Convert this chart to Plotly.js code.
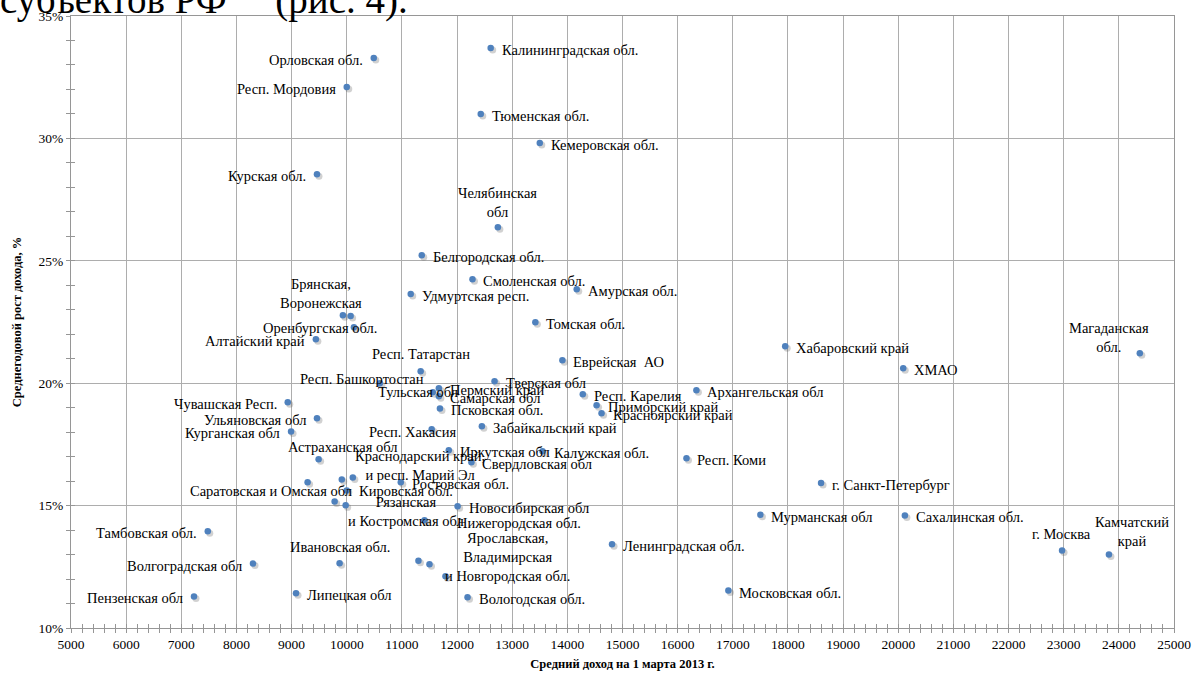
<!DOCTYPE html>
<html>
<head>
<meta charset="utf-8">
<script src="https://cdn.plot.ly/plotly-3.0.1.min.js"></script>
<style>
html,body{margin:0;padding:0;background:#fff;}
#chart{width:1195px;height:677px;}
#chart svg text{font-family:"Liberation Serif","Times New Roman","DejaVu Serif",serif !important;}
</style>
</head>
<body>
<div id="chart"></div>
<script>
// ---- DATA ----
const regions = [
  'Орловская обл.','Респ. Мордовия','Курская обл.','Калининградская обл.','Тюменская обл.',
  'Кемеровская обл.','Челябинская обл','Белгородская обл.','Смоленская обл.','Удмуртская респ.',
  'Амурская обл.','Томская обл.','Брянская обл.','Воронежская обл.','Оренбургская обл.',
  'Алтайский край','Респ. Татарстан','Хабаровский край','Магаданская обл.','Еврейская АО',
  'ХМАО','Респ. Башкортостан','Тверская обл','Пермский край','Тульская обл',
  'Самарская обл','Псковская обл.','Респ. Карелия','Приморский край','Красноярский край',
  'Архангельская обл','Чувашская Респ.','Ульяновская обл','Курганская обл','Респ. Хакасия',
  'Забайкальский край','Астраханская обл','Краснодарский край','Респ. Марий Эл','Иркутская обл',
  'Калужская обл.','Свердловская обл','Респ. Коми','Саратовская обл.','Омская обл.',
  'Ростовская обл.','г. Санкт-Петербург','Рязанская обл.','Костромская обл.','Новосибирская обл',
  'Нижегородская обл.','Мурманская обл','Сахалинская обл.','Тамбовская обл.','Камчатский край',
  'г. Москва','Ярославская обл.','Владимирская обл.','Новгородская обл.','Ивановская обл.',
  'Волгоградская обл','Ленинградская обл.','Пензенская обл','Липецкая обл','Вологодская обл.',
  'Московская обл.'
];
const income = [
  10490,10000,9460,12610,12430,
  13500,12740,11360,12280,11160,
  14170,13420,9930,10070,10130,
  9440,11340,17950,24380,13910,
  20090,10600,12680,11670,11560,
  11670,11690,14280,14530,14620,
  16340,8930,9460,8990,11540,
  12450,9490,9910,10110,11850,
  13550,12260,16160,9290,10000,
  10980,18600,9780,9980,12010,
  11410,17500,20120,7480,23820,
  22970,11300,11500,11790,9870,
  8300,14810,7230,9080,12190,
  16920
];
const growth = [
  33.28,32.10,28.54,33.69,31.00,
  29.81,26.37,25.23,24.25,23.64,
  23.84,22.49,22.78,22.74,22.29,
  21.80,20.49,21.51,21.22,20.94,
  20.61,20.00,20.08,19.79,19.63,
  19.47,18.97,19.55,19.10,18.77,
  19.71,19.22,18.57,18.03,18.12,
  18.24,16.89,16.07,16.15,17.26,
  17.22,16.77,16.93,15.95,15.62,
  15.95,15.92,15.17,15.01,14.97,
  14.40,14.63,14.60,13.95,13.00,
  13.17,12.75,12.60,12.11,12.65,
  12.63,13.42,11.29,11.42,11.26,
  11.53
];
const xTickLabels = ['5000','6000','7000','8000','9000','10000','11000','12000','13000','14000','15000',
  '16000','17000','18000','19000','20000','21000','22000','23000','24000','25000'];
const xTickValues = [5000,6000,7000,8000,9000,10000,11000,12000,13000,14000,15000,
  16000,17000,18000,19000,20000,21000,22000,23000,24000,25000];
const yTickLabels = ['10%','15%','20%','25%','30%','35%'];
const yTickValues = [10,15,20,25,30,35];

// label texts and the region each one is attached to
const labelText = [
  'Орловская обл.','Респ. Мордовия','Курская обл.','Калининградская обл.','Тюменская обл.',
  'Кемеровская обл.','Челябинская<br>обл','Белгородская обл.','Смоленская обл.','Удмуртская респ.',
  'Амурская обл.','Томская обл.','Брянская,<br>Воронежская','Оренбургская обл.',
  'Алтайский край','Респ. Татарстан','Хабаровский край','Магаданская<br>обл.','Еврейская\u00a0\u00a0АО',
  'ХМАО','Респ. Башкортостан','Тверская обл','Пермский край','Тульская обл',
  'Самарская обл','Псковская обл.','Респ. Карелия','Приморский край','Красноярский край',
  'Архангельская обл','Чувашская Респ.','Ульяновская обл','Курганская обл','Респ. Хакасия',
  'Забайкальский край','Астраханская обл','Краснодарский край,<br>и респ. Марий Эл','Иркутская обл',
  'Калужская обл.','Свердловская обл','Респ. Коми','Саратовская и Омская обл','Кировская обл.',
  'Ростовская обл.','г. Санкт-Петербург','Рязанская<br>и Костромская обл','Новосибирская обл',
  'Нижегородская обл.','Мурманская обл','Сахалинская обл.','Тамбовская обл.','Камчатский<br>край',
  'г. Москва','Ярославская,<br>Владимирская<br>и Новгородская обл.','Ивановская обл.',
  'Волгоградская обл','Ленинградская обл.','Пензенская обл','Липецкая обл','Вологодская обл.',
  'Московская обл.'
];
const labelAt = [
  'Орловская обл.','Респ. Мордовия','Курская обл.','Калининградская обл.','Тюменская обл.',
  'Кемеровская обл.','Челябинская обл','Белгородская обл.','Смоленская обл.','Удмуртская респ.',
  'Амурская обл.','Томская обл.','Брянская обл.','Оренбургская обл.',
  'Алтайский край','Респ. Татарстан','Хабаровский край','Магаданская обл.','Еврейская АО',
  'ХМАО','Респ. Башкортостан','Тверская обл','Пермский край','Тульская обл',
  'Самарская обл','Псковская обл.','Респ. Карелия','Приморский край','Красноярский край',
  'Архангельская обл','Чувашская Респ.','Ульяновская обл','Курганская обл','Респ. Хакасия',
  'Забайкальский край','Астраханская обл','Краснодарский край','Иркутская обл',
  'Калужская обл.','Свердловская обл','Респ. Коми','Омская обл.','Омская обл.',
  'Ростовская обл.','г. Санкт-Петербург','Рязанская обл.','Новосибирская обл',
  'Нижегородская обл.','Мурманская обл','Сахалинская обл.','Тамбовская обл.','Камчатский край',
  'г. Москва','Ярославская обл.','Ивановская обл.',
  'Волгоградская обл','Ленинградская обл.','Пензенская обл','Липецкая обл','Вологодская обл.',
  'Московская обл.'
];

// ---- STYLES (label placement: [xanchor, yanchor, xshift px, yshift px]) ----
const R = ['left','middle',9,-2], L = ['right','middle',-9,-2];
const labelStyle = [
  L,L,L,R,R,
  R,['center','bottom',0,5],R,R,R,
  R,R,['center','bottom',-22,2],['center','middle',-34,-1],
  L,['center','middle',0,17],R,['center','middle',-31,16],R,
  R,['center','middle',-18,4],R,R,['center','middle',-15,0],
  R,R,R,R,R,
  R,L,L,L,['center','middle',-19,-3],
  R,['center','middle',24,12],['center','middle',78,14],R,
  R,R,R,['right','middle',7,-1],['left','middle',10,-1],
  R,R,['center','middle',71,-10],R,
  ['left','middle',30,-3],R,R,L,['center','middle',23,23],
  ['center','middle',-1,16],['center','middle',89,4],['center','middle',0,16],
  L,R,L,R,R,
  R
];

const FONT = '"Liberation Serif", "Times New Roman", "DejaVu Serif", serif';
const GRID = '#adadad', AXIS = '#969696';

const annotations = labelText.map((t, k) => {
  const i = regions.indexOf(labelAt[k]);
  const s = labelStyle[k];
  return {
    x: income[i], y: growth[i], xref: 'x', yref: 'y', text: t, showarrow: false,
    xanchor: s[0], yanchor: s[1], xshift: s[2], yshift: s[3], align: 'center',
    font: {family: FONT, size: 14.5, color: '#000'}
  };
});
// cropped document text above the chart
annotations.push({
  xref: 'paper', yref: 'paper', x: -0.066, y: 0.987, xanchor: 'left', yanchor: 'bottom',
  text: 'субъектов РФ\u00a0\u00a0\u00a0\u00a0\u00a0(рис. 4).', showarrow: false,
  font: {family: FONT, size: 39, color: '#000'}
});

const shadow = {
  type: 'scatter', mode: 'markers', x: income, y: growth, xaxis: 'x', yaxis: 'y',
  uid: 'shadow', hoverinfo: 'skip',
  marker: {size: 7, color: 'rgba(90,90,90,0.28)'}
};
const dots = {
  type: 'scatter', mode: 'markers', x: income, y: growth, xaxis: 'x2', yaxis: 'y2',
  text: regions, hoverinfo: 'text+x+y',
  marker: {size: 6.5, color: '#4F81BD'}
};

const xr = [5000, 25000], yr = [10, 35];
const layout = {
  width: 1195, height: 677,
  margin: {l: 71, r: 21, t: 16, b: 49},
  paper_bgcolor: '#fff', plot_bgcolor: '#fff',
  showlegend: false,
  font: {family: FONT, color: '#000'},
  xaxis: {
    range: xr, tickmode: 'array', tickvals: xTickValues, ticktext: xTickLabels,
    showgrid: true, gridcolor: GRID, gridwidth: 1, zeroline: false,
    showline: true, linecolor: AXIS, linewidth: 1, mirror: true,
    ticks: 'outside', ticklen: 4, tickcolor: AXIS,
    minor: {dtick: 200, tick0: 5000, ticks: 'outside', ticklen: 4, tickcolor: AXIS, showgrid: false},
    tickfont: {family: FONT, size: 13.5, color: '#000'},
    title: {text: '<b>Средний доход на 1 марта 2013 г.</b>', font: {family: FONT, size: 12.5, color: '#000'}, standoff: 8},
    automargin: false
  },
  yaxis: {
    range: yr, tickmode: 'array', tickvals: yTickValues, ticktext: yTickLabels,
    showgrid: true, gridcolor: GRID, gridwidth: 1, zeroline: false,
    showline: true, linecolor: AXIS, linewidth: 1, mirror: true,
    ticks: 'outside', ticklen: 4, tickcolor: AXIS,
    minor: {dtick: 1, tick0: 10, ticks: 'outside', ticklen: 4, tickcolor: AXIS, showgrid: false},
    tickfont: {family: FONT, size: 13.5, color: '#000'},
    title: {text: '<b>Среднегодовой рост дохода, %</b>', font: {family: FONT, size: 12.5, color: '#000'}, standoff: 14},
    automargin: false
  },
  xaxis2: {
    overlaying: 'x', anchor: 'y2', side: 'bottom', range: xr,
    tickmode: 'array', tickvals: xTickValues, showticklabels: false,
    showgrid: false, zeroline: false, showline: false,
    ticks: 'inside', ticklen: 4, tickcolor: AXIS,
    minor: {dtick: 200, tick0: 5000, ticks: 'inside', ticklen: 4, tickcolor: AXIS, showgrid: false}
  },
  yaxis2: {
    overlaying: 'y', anchor: 'x2', side: 'left', range: yr,
    tickmode: 'array', tickvals: yTickValues, showticklabels: false,
    showgrid: false, zeroline: false, showline: false,
    ticks: 'inside', ticklen: 4, tickcolor: AXIS,
    minor: {dtick: 1, tick0: 10, ticks: 'inside', ticklen: 4, tickcolor: AXIS, showgrid: false}
  },
  annotations: annotations
};

Plotly.newPlot('chart', [shadow, dots], layout, {staticPlot: true, displayModeBar: false}).then(() => {
  document.querySelectorAll('.traceshadow').forEach(g => g.setAttribute('transform', 'translate(2,2)'));
});
</script>
</body>
</html>
